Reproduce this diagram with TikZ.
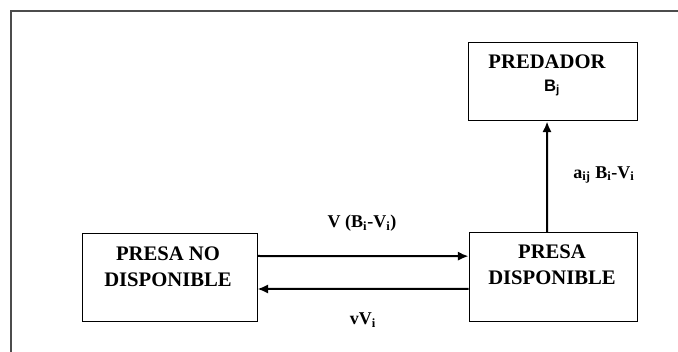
\documentclass[tikz,border=0pt]{standalone}
\usepackage{fontspec}
\setmainfont{Liberation Serif}
\newfontfamily\arialfont{Liberation Sans}
\usetikzlibrary{arrows.meta}
\def\cajatexto{\fontsize{15.5}{19.5}\selectfont\bfseries}
\def\flechatexto{\fontsize{13.5}{15}\selectfont\bfseries}

\begin{document}
\begin{tikzpicture}[x=0.75pt, y=-0.75pt,
		caja/.style={draw, line width=0.75pt, inner sep=0pt},
		flecha/.style={line width=1.5pt, -{Latex[length=8pt,width=7pt]}},
		texto/.style={inner sep=0pt, align=center}]
		%%%%% START %%%%%
		
		\useasboundingbox (0, 0) rectangle (678, 352);
		\draw[line width=1pt, color=black!70] (678, 11) -- (11, 11) -- (11, 352);
		
		\node[caja, minimum width=126.75pt, minimum height=58.5pt] (predador) at (552.5, 82) {};
		\node[caja, minimum width=131.25pt, minimum height=66pt] (nodisp) at (169.5, 278) {};
		\node[caja, minimum width=126pt, minimum height=66.75pt] (disp) at (553, 277.5) {};
		
		\node[texto, font=\cajatexto] (predadorT) at (547, 62) {PREDADOR};
		\node[texto, font=\arialfont\fontsize{12.5}{14}\selectfont\bfseries] (predadorB) at (552, 88) {B\textsubscript{j}};
		\node[texto, font=\cajatexto] (nodispT) at (168, 266.5) {PRESA NO\\DISPONIBLE};
		\node[texto, font=\cajatexto] (dispT) at (552, 264.5) {PRESA\\DISPONIBLE};
		
		\draw[flecha] ([yshift=16.5pt]nodisp.east) -- ([yshift=16pt]disp.west);
		\draw[flecha] ([yshift=-8.5pt]disp.west) -- ([yshift=-8.25pt]nodisp.east);
		\draw[flecha] ([xshift=-4.5pt]disp.north) -- ([xshift=-4.1pt]predador.south);
		
		\node[texto, font=\flechatexto] (v) at (362, 223) {V (B\textsubscript{i}-V\textsubscript{i})};
		\node[texto, font=\flechatexto] (vv) at (363, 320) {vV\textsubscript{i}};
		\node[texto, font=\flechatexto] (aij) at (604, 175) {a\textsubscript{ij} B\textsubscript{i}-V\textsubscript{i}};
		
		%%%%% END %%%%%
	\end{tikzpicture}
\end{document}
